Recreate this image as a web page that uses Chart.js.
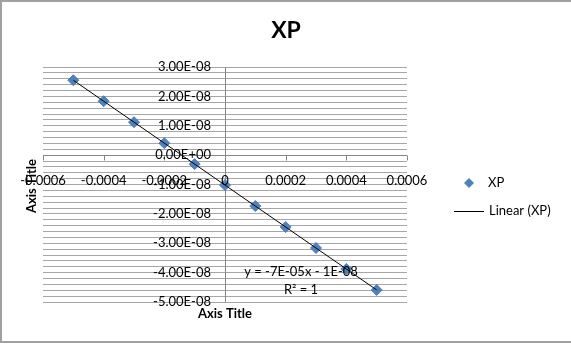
<!DOCTYPE html>
<html lang="en">
<head>
  <meta charset="UTF-8" />
  <title>XP</title>
  <script src="https://cdn.jsdelivr.net/npm/chart.js"></script>
  <style>
    html, body { margin: 0; padding: 0; background: #fff; }
    #wrap { width: 571px; height: 345px; }
  </style>
</head>
<body>
  <div id="wrap"><canvas id="xpChart" width="571" height="345"></canvas></div>

  <script>
    // XP measurements
    const xValues = [-0.0005, -0.0004, -0.0003, -0.0002, -0.0001, 0, 0.0001, 0.0002, 0.0003, 0.0004, 0.0005];
    const xpValues = [2.55e-8, 1.836e-8, 1.122e-8, 0.408e-8, -0.306e-8, -1.02e-8, -1.734e-8, -2.448e-8, -3.162e-8, -3.876e-8, -4.59e-8];

    // axis ticks
    const xTicks = [-0.0006, -0.0004, -0.0002, 0, 0.0002, 0.0004, 0.0006];
    const xTickLabels = ['-0.0006', '-0.0004', '-0.0002', '0', '0.0002', '0.0004', '0.0006'];
    const yTicks = [3e-8, 2e-8, 1e-8, 0, -1e-8, -2e-8, -3e-8, -4e-8, -5e-8];
    const yTickLabels = ['3.00E-08', '2.00E-08', '1.00E-08', '0.00E+00', '-1.00E-08', '-2.00E-08', '-3.00E-08', '-4.00E-08', '-5.00E-08'];
    const yMinorStep = 2e-9;

    const trendText = ['y = -7E-05x - 1E-08', 'R\u00b2 = 1'];

    // least squares fit for the trendline
    const n = xValues.length;
    const mx = xValues.reduce((a, b) => a + b, 0) / n;
    const my = xpValues.reduce((a, b) => a + b, 0) / n;
    let sxy = 0, sxx = 0;
    xValues.forEach((x, i) => { sxy += (x - mx) * (xpValues[i] - my); sxx += (x - mx) * (x - mx); });
    const slope = sxy / sxx;
    const intercept = my - slope * mx;
    const xFirst = xValues[0], xLast = xValues[n - 1];

    const FONT = 'Lato, "Open Sans", sans-serif';
    const BLUE = '#4F81BD';

    function diamond(ctx, cx, cy, r) {
      ctx.beginPath();
      ctx.moveTo(cx, cy - r);
      ctx.lineTo(cx + r, cy);
      ctx.lineTo(cx, cy + r);
      ctx.lineTo(cx - r, cy);
      ctx.closePath();
      ctx.fill();
    }

    // axes crossing at zero, labels, titles, legend and frame
    const excelLayout = {
      id: 'excelLayout',
      beforeDatasetsDraw(chart) {
        const { ctx, chartArea: a, scales: { x, y } } = chart;
        const x0 = Math.round(x.getPixelForValue(0)) + 0.5;
        const y0 = Math.round(y.getPixelForValue(0)) + 0.5;
        ctx.save();
        ctx.strokeStyle = '#868686';
        ctx.lineWidth = 1;
        ctx.beginPath();
        ctx.moveTo(x0, a.top);
        ctx.lineTo(x0, a.bottom);
        ctx.moveTo(a.left, y0);
        ctx.lineTo(a.right, y0);
        xTicks.forEach(v => {
          const px = Math.round(x.getPixelForValue(v)) + 0.5;
          ctx.moveTo(px, y0);
          ctx.lineTo(px, y0 + 5);
        });
        ctx.stroke();
        ctx.restore();
      },
      afterDraw(chart) {
        const { ctx, scales: { x, y } } = chart;
        const x0 = x.getPixelForValue(0);
        const y0 = y.getPixelForValue(0);
        ctx.save();
        ctx.fillStyle = '#000';
        ctx.textBaseline = 'middle';

        // tick labels
        ctx.font = '13px ' + FONT;
        ctx.textAlign = 'center';
        xTicks.forEach((v, i) => ctx.fillText(xTickLabels[i], x.getPixelForValue(v), y0 + 26));
        ctx.textAlign = 'right';
        yTicks.forEach((v, i) => ctx.fillText(yTickLabels[i], x0 - 14, y.getPixelForValue(v)));

        // trendline equation
        ctx.textAlign = 'center';
        ctx.fillText(trendText[0], 301, 272);
        ctx.fillText(trendText[1], 301, 290);

        // title
        ctx.font = 'bold 23px ' + FONT;
        ctx.fillText('XP', 286, 31);

        // axis titles
        ctx.font = 'bold 13px ' + FONT;
        ctx.fillText('Axis Title', 225, 314);
        ctx.save();
        ctx.translate(32, 186);
        ctx.rotate(-Math.PI / 2);
        ctx.fillText('Axis Title', 0, 0);
        ctx.restore();

        // legend
        ctx.font = '13px ' + FONT;
        ctx.textAlign = 'left';
        ctx.fillStyle = BLUE;
        diamond(ctx, 469, 183, 5);
        ctx.fillStyle = '#000';
        ctx.fillText('XP', 488, 183);
        ctx.strokeStyle = '#000';
        ctx.lineWidth = 1;
        ctx.beginPath();
        ctx.moveTo(454, 211.5);
        ctx.lineTo(484, 211.5);
        ctx.stroke();
        ctx.fillText('Linear (XP)', 489, 211);

        // outer frame
        ctx.strokeStyle = '#a0a0a0';
        ctx.lineWidth = 2;
        ctx.strokeRect(1, 1, 575, 341);
        ctx.restore();
      }
    };

    new Chart(document.getElementById('xpChart'), {
      type: 'scatter',
      data: {
        datasets: [
          {
            label: 'Linear (XP)',
            type: 'line',
            data: [
              { x: xFirst, y: slope * xFirst + intercept },
              { x: xLast, y: slope * xLast + intercept }
            ],
            borderColor: '#000',
            borderWidth: 1,
            pointRadius: 0,
            fill: false,
            order: 0
          },
          {
            label: 'XP',
            data: xValues.map((x, i) => ({ x: x, y: xpValues[i] })),
            pointStyle: 'rectRot',
            pointRadius: 5.5,
            backgroundColor: BLUE,
            borderColor: '#4A7EBB',
            borderWidth: 1,
            order: 1
          }
        ]
      },
      options: {
        responsive: false,
        animation: false,
        devicePixelRatio: 1,
        layout: { autoPadding: false, padding: { left: 43, right: 164, top: 67, bottom: 43 } },
        plugins: { legend: { display: false }, tooltip: { enabled: false } },
        scales: {
          x: {
            type: 'linear',
            min: -0.0006,
            max: 0.0006,
            ticks: { display: false, stepSize: 0.0002 },
            grid: { display: false, drawTicks: false },
            border: { display: false }
          },
          y: {
            type: 'linear',
            min: -5e-8,
            max: 3e-8,
            afterBuildTicks: s => {
              s.ticks = Array.from({ length: 41 }, (_, i) => ({ value: -5e-8 + i * yMinorStep }));
            },
            ticks: { display: false },
            grid: { color: '#a6a6a6', lineWidth: 1, drawTicks: false },
            border: { display: false }
          }
        }
      },
      plugins: [excelLayout]
    });
  </script>
</body>
</html>
